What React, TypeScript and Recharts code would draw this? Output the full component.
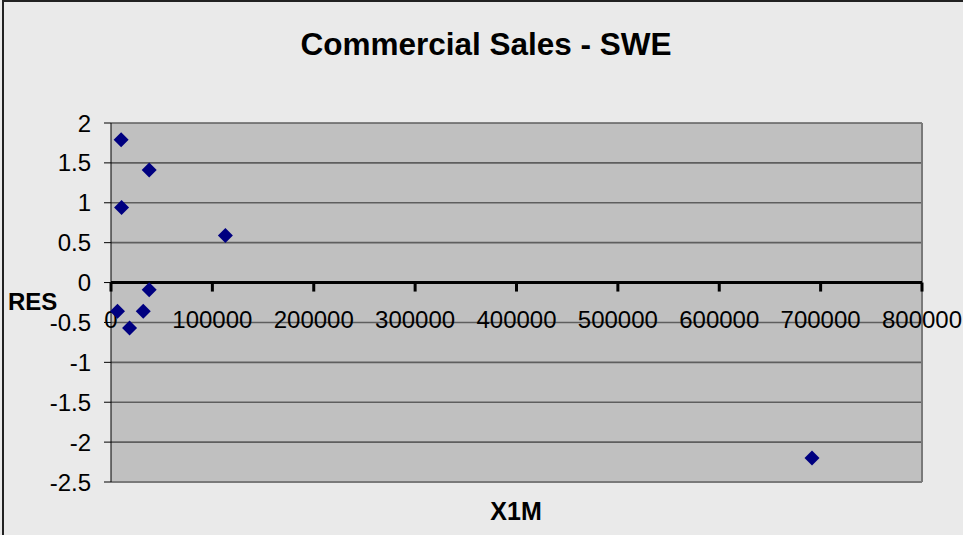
import {
  ScatterChart,
  Scatter,
  XAxis,
  YAxis,
  CartesianGrid,
  ReferenceLine,
  ReferenceDot,
} from "recharts";

const FONT = '"Liberation Sans", Arial, sans-serif';

// X1M values and the residuals
const X1M = [10000, 37700, 10400, 112800, 37700, 6400, 31800, 18300, 691500];
const RES = [1.79, 1.41, 0.94, 0.59, -0.09, -0.36, -0.36, -0.57, -2.2];

const X_TICKS = [0, 100000, 200000, 300000, 400000, 500000, 600000, 700000, 800000];
const Y_TICKS = [-2.5, -2, -1.5, -1, -0.5, 0, 0.5, 1, 1.5, 2];

const data = X1M.map((x, i) => ({ x, y: RES[i] }));

const MARKER = "#000080";
const GRID = "#5E5E5E";

function Diamond(props: any) {
  const { cx, cy } = props;
  const r = 7.5;
  return (
    <polygon
      points={`${cx},${cy - r} ${cx + r},${cy} ${cx},${cy + r} ${cx - r},${cy}`}
      fill={MARKER}
    />
  );
}

// Excel puts the category axis across y = 0, so ticks + labels hang off that line
function makeXTick(value: number) {
  return (props: any) => {
    const { cx, cy } = props;
    return (
      <g>
        <line x1={cx} y1={cy} x2={cx} y2={cy + 9} stroke="#000" strokeWidth={3} />
        <text
          x={cx}
          y={cy + 45}
          textAnchor="middle"
          fontSize={24}
          fontFamily={FONT}
          fill="#000"
        >
          {value}
        </text>
      </g>
    );
  };
}

export default function App() {
  return (
    <div
      style={{
        position: "absolute",
        left: 0,
        top: 0,
        width: 963,
        height: 535,
        background: "#EAEAEA",
        overflow: "hidden",
      }}
    >
      <div
        style={{
          position: "absolute",
          left: 2,
          top: 0,
          width: 1000,
          height: 600,
          borderTop: "2px solid #222",
          borderLeft: "2px solid #222",
        }}
      />
      <div style={{ position: "absolute", left: 0, top: 0 }}>
        <ScatterChart
          width={963}
          height={535}
          margin={{ top: 123, right: 41, bottom: 53, left: 0 }}
        >
          <CartesianGrid vertical={false} stroke={GRID} strokeWidth={1.6} fill="#C0C0C0" />
          <XAxis type="number" dataKey="x" domain={[0, 800000]} ticks={X_TICKS} hide />
          <YAxis
            type="number"
            dataKey="y"
            domain={[-2.5, 2]}
            ticks={Y_TICKS}
            interval={0}
            width={111}
            tick={{ fill: "#000", fontSize: 24, fontFamily: FONT }}
            tickLine={{ stroke: "#000" }}
            tickSize={7}
            tickMargin={13}
            axisLine={{ stroke: "#000" }}
          />
          <ReferenceLine x={800000} stroke="#7A7A7A" strokeWidth={2} />
          <ReferenceLine y={-2.5} stroke="#7A7A7A" strokeWidth={2} />
          <ReferenceLine y={0} stroke="#000" strokeWidth={3} />
          {X_TICKS.map((t) => (
            <ReferenceDot
              key={t}
              x={t}
              y={0}
              r={0}
              ifOverflow="visible"
              shape={makeXTick(t)}
            />
          ))}
          <Scatter data={data} shape={Diamond} isAnimationActive={false} />
        </ScatterChart>
      </div>
      <svg
        width={963}
        height={535}
        style={{ position: "absolute", left: 0, top: 0, pointerEvents: "none" }}
      >
        <text x={486} y={55} textAnchor="middle" fontSize={31.5} fontWeight="bold" fontFamily={FONT}>
          Commercial Sales - SWE
        </text>
        <text x={8} y={310} fontSize={24} fontWeight="bold" fontFamily={FONT}>
          RES
        </text>
        <text x={516} y={520} textAnchor="middle" fontSize={25} fontWeight="bold" fontFamily={FONT}>
          X1M
        </text>
      </svg>
    </div>
  );
}
